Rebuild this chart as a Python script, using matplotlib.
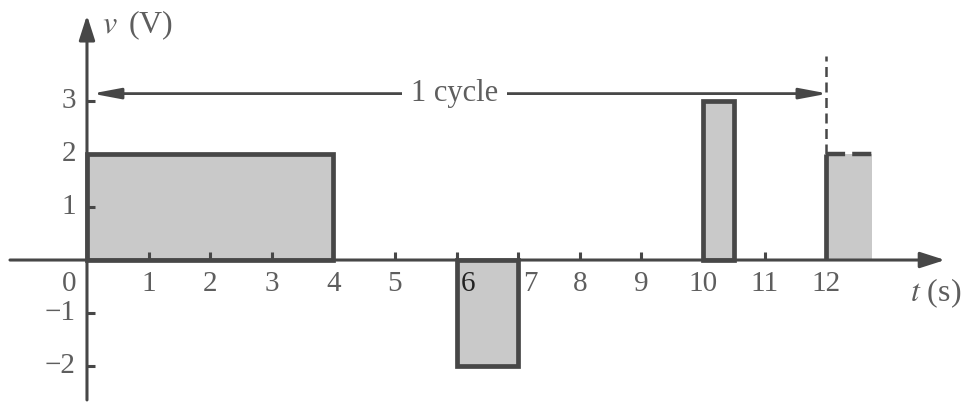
import matplotlib
matplotlib.use("Agg")
import matplotlib.pyplot as plt

plt.rcParams["font.family"] = ["Liberation Serif", "DejaVu Serif"]
plt.rcParams["mathtext.fontset"] = "stix"

# one period of the pulse train (seconds, volts)
pulse_start = [0, 6, 10]
pulse_width = [4, 1, 0.5]
pulse_level = [2, -2, 3]
period = 12
# first pulse of the next cycle
next_start = 12
next_width = 0.75
next_level = 2

x_ticks = [1, 2, 3, 4, 5, 6, 7, 8, 9, 10, 11, 12]
x_labels = ["1", "2", "3", "4", "5", "6", "7", "8", "9", "10", "11", "12"]
y_ticks = [-2, -1, 1, 2, 3]
y_labels = ["\u22122", "\u22121", "1", "2", "3"]

EDGE = "#474747"
FILL = "#c9c9c9"
TEXT = "#5e5e5e"
FS = 21

fig = plt.figure(figsize=(9.71, 4.16), dpi=100)
ax = fig.add_axes([0, 0, 1, 1])
ax.set_xlim(-1.412, 14.351)
ax.set_ylim(-2.943, 4.906)

# pulses
ax.bar(pulse_start, pulse_level, width=pulse_width, align="edge",
       color=FILL, edgecolor=EDGE, linewidth=3.4, zorder=1)
ax.bar([next_start], [next_level], width=[next_width], align="edge",
       color=FILL, linewidth=0, zorder=1)
ax.plot([next_start, next_start], [0, next_level], color=EDGE, lw=3.4,
        solid_capstyle="butt", zorder=2)
ax.plot([next_start, next_start + next_width], [next_level, next_level],
        color=EDGE, lw=3.2, dashes=(4.3, 1.6), zorder=2)
ax.plot([period, period], [next_level, 3.85], color=EDGE, lw=1.8,
        ls=(0, (4, 2.2)), zorder=2)

# axes with arrowheads
for s in ["top", "right", "bottom", "left"]:
    ax.spines[s].set_visible(False)
ax.spines["bottom"].set_position(("data", 0))
ax.spines["left"].set_position(("data", 0))
head = dict(arrowstyle="-|>,head_length=0.75,head_width=0.24",
            mutation_scale=20, color=EDGE, lw=2.2, shrinkA=0, shrinkB=0)
ax.annotate("", xy=(13.93, 0), xytext=(-1.25, 0), arrowprops=head)
ax.annotate("", xy=(0, 4.62), xytext=(0, -2.64), arrowprops=head)

ax.set_xticks(x_ticks)
ax.set_xticklabels([])
ax.set_yticks(y_ticks)
ax.set_yticklabels([])
ax.tick_params(direction="in", length=6, width=2.2, color=EDGE)

# tick labels
for t, lab in zip(x_ticks, x_labels):
    dx = {6: 0.18, 7: 0.2}.get(t, 0)
    ax.text(t + dx, -0.45, lab, ha="center", va="center", fontsize=FS,
            color="#222222" if t == 6 else TEXT)
ax.text(-0.18, -0.45, "0", ha="right", va="center", fontsize=FS, color=TEXT)
for v, lab in zip(y_ticks, y_labels):
    ax.text(-0.18, v, lab, ha="right", va="center", fontsize=FS, color=TEXT)

# axis titles
ax.text(0.25, 4.43, r"$v\,$ (V)", ha="left", va="center", fontsize=23, color=TEXT)
ax.text(13.78, -0.62, "$t$ (s)", ha="center", va="center", fontsize=23, color=TEXT)

# period marker
ax.annotate("", xy=(0.08, 3.14), xytext=(period + 0.03, 3.14),
            arrowprops=dict(arrowstyle="<|-|>,head_length=0.85,head_width=0.16",
                            mutation_scale=20, color=EDGE, lw=2.0,
                            shrinkA=0, shrinkB=0))
ax.text(5.97, 3.14, "1 cycle", ha="center", va="center", fontsize=FS + 1, color=TEXT,
        bbox=dict(boxstyle="square,pad=0.3", fc="white", ec="none"))

fig.savefig("out.png", dpi=100)
